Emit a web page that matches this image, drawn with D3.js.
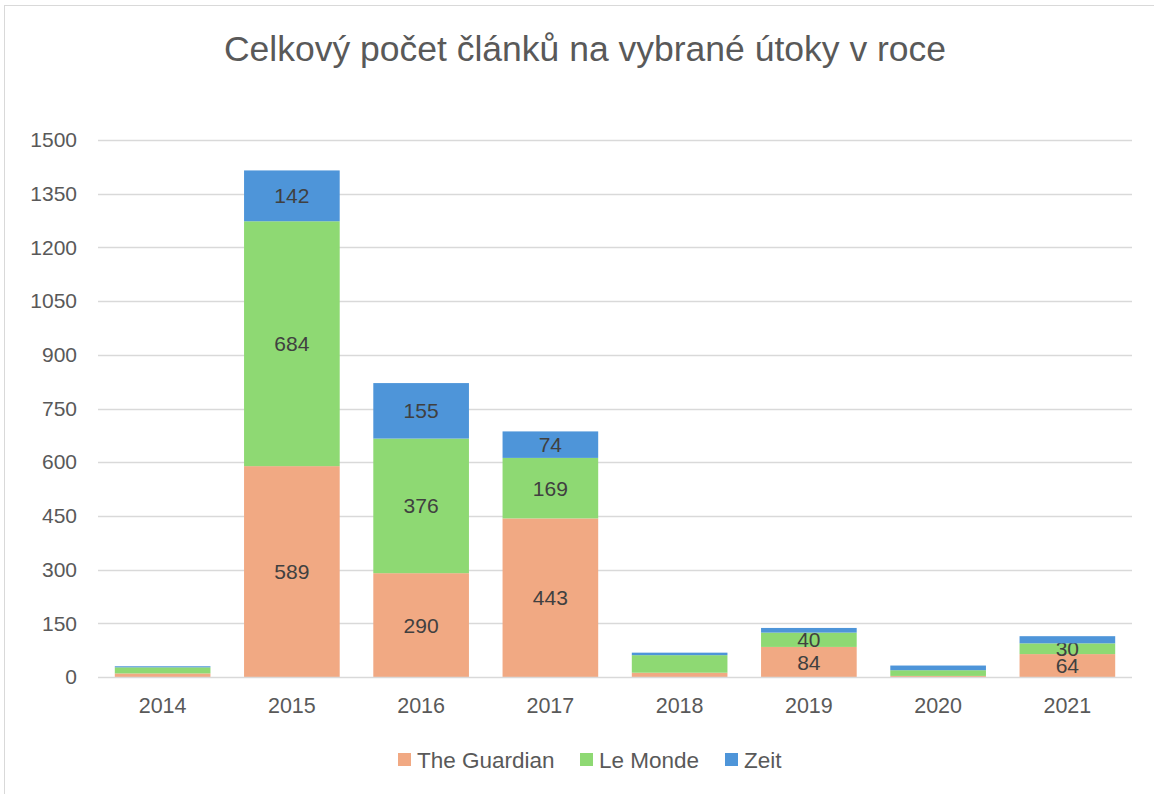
<!DOCTYPE html>
<html>
<head>
<meta charset="utf-8">
<script src="https://cdn.jsdelivr.net/npm/d3@7"></script>
<style>
  body { margin: 0; background: #fff; }
  text { font-family: "Liberation Sans", Arial, sans-serif; }
</style>
</head>
<body>
<script>
// Data
var years = ["2014", "2015", "2016", "2017", "2018", "2019", "2020", "2021"];
var guardian = [10, 589, 290, 443, 12, 84, 3, 64];
var leMonde = [17, 684, 376, 169, 49, 40, 16, 30];
var zeit = [3, 142, 155, 74, 7, 13, 13, 20];
var seriesNames = ["The Guardian", "Le Monde", "Zeit"];
var yTicks = [0, 150, 300, 450, 600, 750, 900, 1050, 1200, 1350, 1500];
// years whose segments carry no value labels in the original
var unlabelledYears = ["2014", "2018", "2020"];

var colors = ["#F1A983", "#8ED973", "#4E95D9"];

var W = 1154, H = 794;
var margin = { top: 140, right: 22, bottom: 117, left: 98 },
    width = W - margin.left - margin.right,
    height = H - margin.top - margin.bottom;

var svg = d3.select("body").append("svg")
    .attr("width", W)
    .attr("height", H);

// chart border
svg.append("rect")
    .attr("x", 4.5).attr("y", 5.5)
    .attr("width", W + 10).attr("height", H + 10)
    .attr("fill", "none")
    .attr("stroke", "#D9D9D9");

// Title
svg.append("text")
    .attr("x", 585)
    .attr("y", 61)
    .attr("text-anchor", "middle")
    .attr("fill", "#595959")
    .style("font-size", "35.5px")
    .text("Celkový počet článků na vybrané útoky v roce");

var g = svg.append("g")
    .attr("transform", "translate(" + margin.left + "," + margin.top + ")");

// build table
var table = years.map(function (y, i) {
    return { year: y, "The Guardian": guardian[i], "Le Monde": leMonde[i], "Zeit": zeit[i] };
});

var stacked = d3.stack().keys(seriesNames)(table);

var x = d3.scaleBand()
    .domain(years)
    .range([0, width])
    .paddingInner(0.26)
    .paddingOuter(0.13);

var y = d3.scaleLinear()
    .domain([0, 1500])
    .range([height, 0]);

// Gridlines
g.selectAll(".grid")
    .data(yTicks.slice(1))
    .enter().append("line")
    .attr("x1", 0).attr("x2", width)
    .attr("y1", function (d) { return Math.round(y(d)) + 0.5; })
    .attr("y2", function (d) { return Math.round(y(d)) + 0.5; })
    .attr("stroke", "#D9D9D9")
    .attr("stroke-width", 1.5);

// Y axis labels
var yAxis = g.append("g")
    .call(d3.axisLeft(y).tickValues(yTicks).tickFormat(d3.format("d")).tickSize(0).tickPadding(21));
yAxis.select(".domain").remove();
yAxis.selectAll("text")
    .attr("fill", "#595959")
    .style("font-family", "'Liberation Sans', Arial, sans-serif")
    .style("font-size", "21px");

// Bars
var layers = g.selectAll(".layer")
    .data(stacked)
    .enter().append("g")
    .attr("class", "layer")
    .attr("fill", function (d, i) { return colors[i]; });

layers.selectAll("rect")
    .data(function (d) { return d; })
    .enter().append("rect")
    .attr("x", function (d) { return x(d.data.year); })
    .attr("width", x.bandwidth())
    .attr("y", function (d) { return y(d[1]); })
    .attr("height", function (d) { return y(d[0]) - y(d[1]); });

// Data labels (only where the reference shows them)
layers.selectAll(".lbl")
    .data(function (d) { return d; })
    .enter()
    .filter(function (d) { return (d[1] - d[0]) >= 30 && unlabelledYears.indexOf(d.data.year) < 0; })
    .append("text")
    .attr("class", "lbl")
    .attr("x", function (d) { return x(d.data.year) + x.bandwidth() / 2; })
    .attr("y", function (d) { return (y(d[0]) + y(d[1])) / 2; })
    .attr("dy", "0.36em")
    .attr("text-anchor", "middle")
    .attr("fill", "#404040")
    .style("font-size", "21px")
    .text(function (d) { return d[1] - d[0]; });

// X axis
g.append("line")
    .attr("x1", 0).attr("x2", width)
    .attr("y1", height + 0.5).attr("y2", height + 0.5)
    .attr("stroke", "#D9D9D9")
    .attr("stroke-width", 1.5);

var xAxis = g.append("g")
    .attr("transform", "translate(0," + height + ")")
    .call(d3.axisBottom(x).tickSize(0).tickPadding(21));
xAxis.select(".domain").remove();
xAxis.selectAll("text")
    .attr("fill", "#595959")
    .style("font-family", "'Liberation Sans', Arial, sans-serif")
    .style("font-size", "21.5px");

// Legend
var legendX = [398, 580, 725];
var legend = svg.selectAll(".legend")
    .data(seriesNames)
    .enter().append("g")
    .attr("class", "legend")
    .attr("transform", function (d, i) { return "translate(" + legendX[i] + ",753)"; });

legend.append("rect")
    .attr("width", 13)
    .attr("height", 13)
    .attr("fill", function (d, i) { return colors[i]; });

legend.append("text")
    .attr("x", 19)
    .attr("y", 7)
    .attr("dy", "0.36em")
    .attr("fill", "#595959")
    .style("font-size", "22.5px")
    .text(function (d) { return d; });
</script>
</body>
</html>
